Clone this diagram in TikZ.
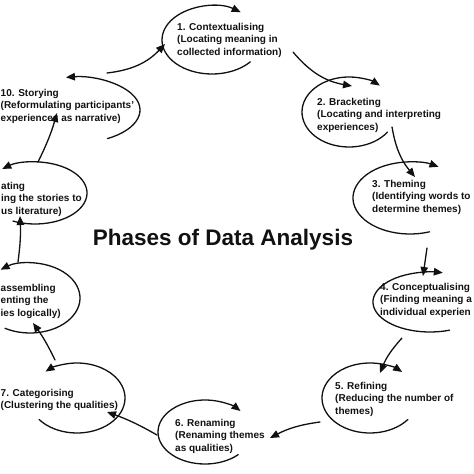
\documentclass[tikz,border=0pt]{standalone}
\usepackage{fontspec}
\setmainfont{Liberation Sans}
\usetikzlibrary{arrows.meta}
\definecolor{ink}{HTML}{111111}
\tikzset{
  >={Triangle[length=9pt,width=7.5pt]},
  phasetxt/.style={font=\fontsize{10}{12.5}\selectfont\bfseries, text=ink,
                   align=left, anchor=north west, inner sep=0pt},
  titletxt/.style={font=\fontsize{22.5}{27}\selectfont\bfseries, text=ink},
  looparc/.style={draw=ink, line width=1.3pt, ->},
  linkar/.style={draw=ink, line width=1.3pt, ->},
}
\begin{document}
\begin{tikzpicture}[x=1pt, y=-1pt, line cap=round, line join=round]
\clip (0,0) rectangle (474,474);

% ===================== title =====================
\node[titletxt] (title) at (223,240) {Phases of Data Analysis};

% ===================== the ten phases =====================
\node[phasetxt] (p1)  at (177,22.7)  {1. Contextualising\\(Locating meaning in\\collected information)};
\node[phasetxt] (p2)  at (317,97.7)  {2. Bracketing\\(Locating and interpreting\\experiences)};
\node[phasetxt] (p3)  at (372,179.7) {3. Theming\\(Identifying words to\\determine themes)};
\node[phasetxt] (p4)  at (380,282.7) {4. Conceptualising\\(Finding meaning a\\individual experien};
\node[phasetxt] (p5)  at (335,381.7) {5. Refining\\(Reducing the number of\\themes)};
\node[phasetxt] (p6)  at (175,418.7) {6. Renaming\\(Renaming themes\\as qualities)};
\node[phasetxt] (p7)  at (0.5,389)   {7. Categorising\\(Clustering the qualities)};
\node[phasetxt] (p8)  at (0.5,283.7) {assembling\\enting the\\ies logically)};
\node[phasetxt] (p9)  at (1,181.7)   {ating\\ing the stories to\\us literature)};
\node[phasetxt] (p10) at (0.5,88.7)  {10. Storying\\(Reformulating participants'\\experiences as narrative)};

% ===================== loop around each phase =====================
% centre x / centre y / x radius / y radius / start / end
\foreach \cx/\cy/\rx/\ry/\sa/\ea in {
    212/40/50/34/40/305,   349/112/47/35/35/311,
    410/198/57/36/70/300,  430/302/57/30/70/283,
    370/398/48/35/38/312,  205/432/47/32/45/319,
    77/398/48/35/142/-131, 30/298/50/35/120/-126,
    35/193/52/31/115/-129, 75/110/65/33/60/-98}{
  \draw[looparc] (\cx,\cy) ++({\sa}:{\rx} and {\ry})
    arc[start angle=\sa, end angle=\ea, x radius=\rx, y radius=\ry];
}

% ===================== links between phases =====================
\coordinate (o10) at (107,73);  \coordinate (i1)  at (165,44);
\coordinate (o1)  at (293,52);  \coordinate (i2)  at (352,86);
\coordinate (o2)  at (392,127); \coordinate (i3)  at (415,177);
\coordinate (o3)  at (427,248); \coordinate (i4)  at (423,276);
\coordinate (o4)  at (402,338); \coordinate (i5)  at (380,373);
\coordinate (o5)  at (320,422); \coordinate (i6)  at (270,438);
\coordinate (o6)  at (157,435); \coordinate (i7)  at (107,412);
\coordinate (o7)  at (55,360);  \coordinate (i8)  at (33,323);
\coordinate (o8)  at (18,262);  \coordinate (i9)  at (20,216);
\coordinate (o9)  at (38,162);  \coordinate (i10) at (57,113);

\draw[linkar] (o10) to[bend right=20] (i1);
\draw[linkar] (o1)  to[bend right=20] (i2);
\draw[linkar] (o2)  to[bend right=15] (i3);
\draw[linkar] (o3)  -- (i4);
\draw[linkar] (o4)  to[bend right=10] (i5);
\draw[linkar] (o5)  to[bend right=10] (i6);
\draw[linkar] (o6)  to[bend right=5]  (i7);
\draw[linkar] (o7)  to[bend right=5]  (i8);
\draw[linkar] (o8)  to[bend right=5]  (i9);
\draw[linkar] (o9)  to[bend right=5]  (i10);

\end{tikzpicture}
\end{document}
